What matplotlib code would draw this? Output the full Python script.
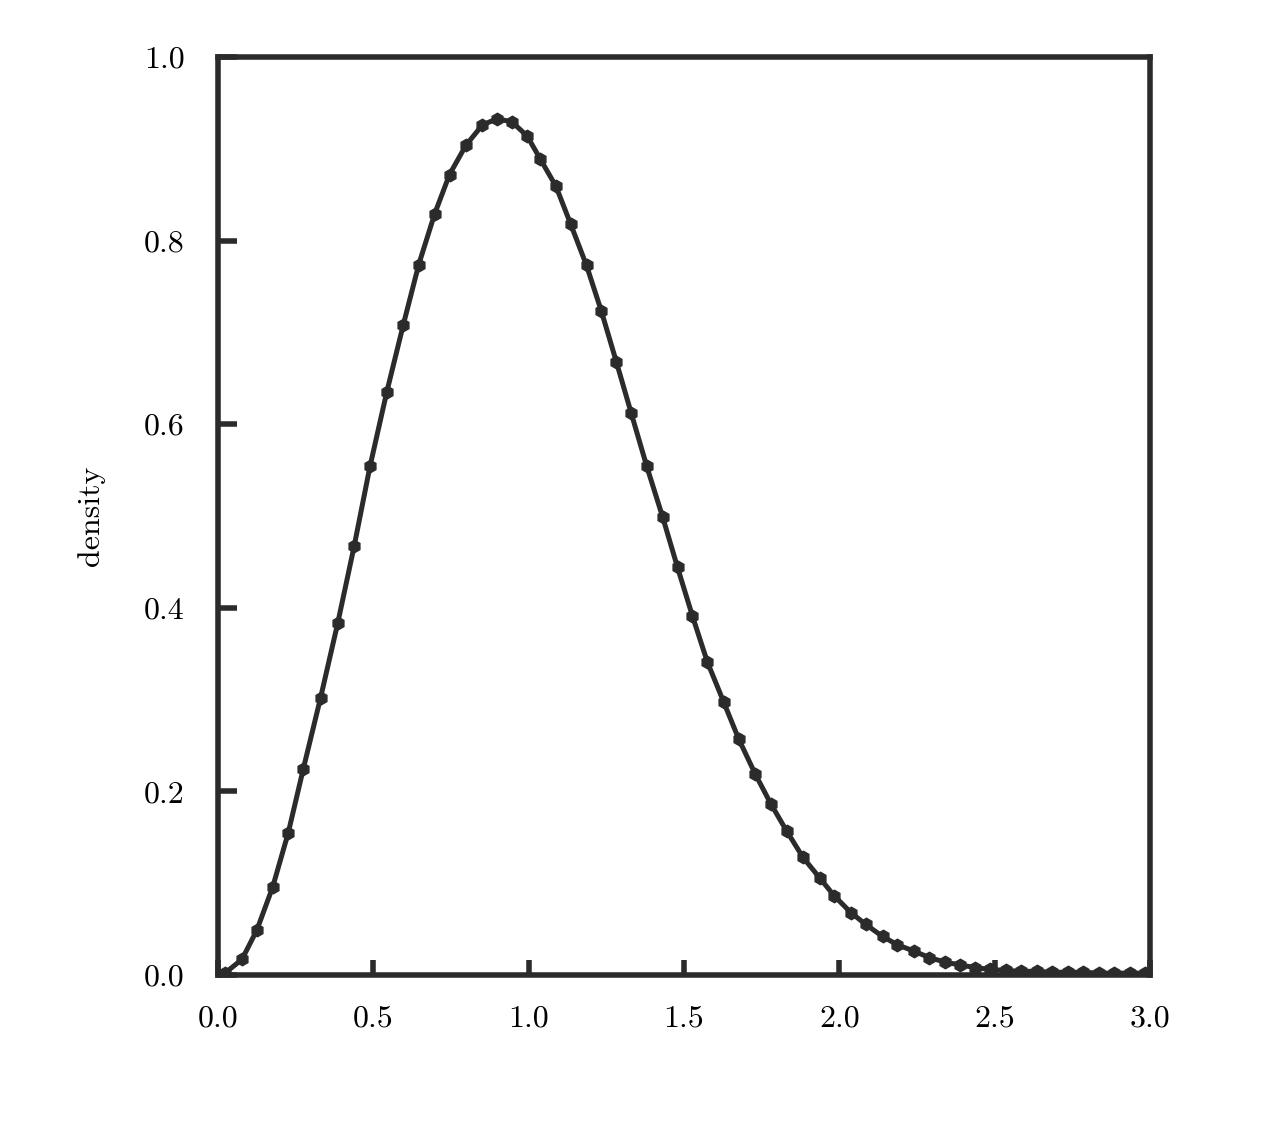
import matplotlib
matplotlib.use("Agg")
import matplotlib.pyplot as plt

# values (dots along the curve)
x_vals = [0.022, 0.077, 0.125, 0.176, 0.226, 0.274, 0.330, 0.385, 0.438, 0.489,
          0.543, 0.596, 0.646, 0.697, 0.745, 0.798, 0.851, 0.899, 0.947, 0.995,
          1.037, 1.088, 1.135, 1.186, 1.234, 1.282, 1.330, 1.380, 1.431, 1.479,
          1.527, 1.575, 1.628, 1.676, 1.729, 1.780, 1.830, 1.883, 1.936, 1.984,
          2.037, 2.085, 2.139, 2.186, 2.240, 2.289, 2.340, 2.387, 2.438, 2.486,
          2.535, 2.585, 2.635, 2.685, 2.735, 2.785, 2.835, 2.885, 2.935, 2.985]
density = [0.002, 0.017, 0.049, 0.096, 0.155, 0.224, 0.302, 0.383, 0.467, 0.554,
           0.635, 0.708, 0.774, 0.829, 0.872, 0.904, 0.926, 0.933, 0.929, 0.914,
           0.889, 0.859, 0.818, 0.773, 0.723, 0.668, 0.612, 0.554, 0.499, 0.444,
           0.391, 0.341, 0.297, 0.257, 0.219, 0.186, 0.157, 0.128, 0.106, 0.086,
           0.068, 0.055, 0.042, 0.033, 0.026, 0.019, 0.014, 0.011, 0.008, 0.006,
           0.005, 0.004, 0.004, 0.003, 0.003, 0.003, 0.002, 0.002, 0.002, 0.002]

x_ticks = [0.0, 0.5, 1.0, 1.5, 2.0, 2.5, 3.0]
x_labels = ["0.0", "0.5", "1.0", "1.5", "2.0", "2.5", "3.0"]
y_ticks = [0.0, 0.2, 0.4, 0.6, 0.8, 1.0]
y_labels = ["0.0", "0.2", "0.4", "0.6", "0.8", "1.0"]

ink = "#2b2b2b"
font = "cmr10"

fig = plt.figure(figsize=(12.88, 11.41), dpi=100)
ax = fig.add_axes([0.1693, 0.1455, 0.7236, 0.8045])

ax.plot(x_vals, density, color=ink, linewidth=3.6, marker="h", markersize=9,
        markerfacecolor=ink, markeredgecolor=ink, solid_capstyle="round",
        solid_joinstyle="round")

ax.set_xlim(0, 3)
ax.set_ylim(0, 1)

for side in ax.spines.values():
    side.set_linewidth(4)
    side.set_color(ink)

ax.set_xticks(x_ticks)
ax.set_xticklabels(x_labels, fontname=font, fontsize=23)
ax.set_yticks(y_ticks)
ax.set_yticklabels(y_labels, fontname=font, fontsize=23)
ax.tick_params(axis="x", direction="in", length=11, width=4, color=ink, pad=22)
ax.tick_params(axis="y", direction="in", length=14, width=4, color=ink, pad=24)

ax.set_ylabel("density", fontname=font, fontsize=23, labelpad=28)

fig.savefig("out.png", dpi=100, facecolor="white")
